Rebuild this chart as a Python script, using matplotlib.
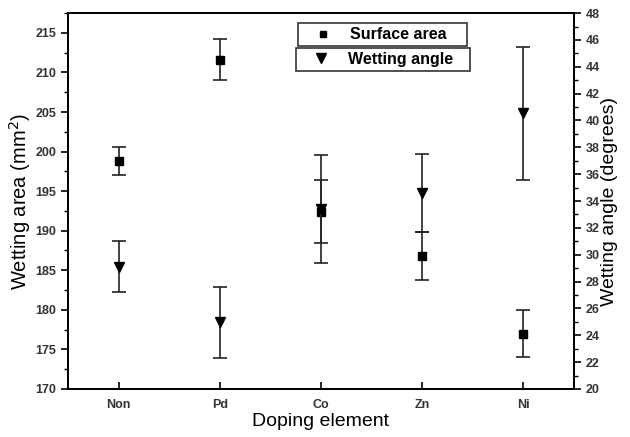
import matplotlib
matplotlib.use('Agg')
import matplotlib.pyplot as plt
from matplotlib.lines import Line2D
from matplotlib.ticker import MultipleLocator

# --- data ---
elements = ['Non', 'Pd', 'Co', 'Zn', 'Ni']
area = [198.8, 211.6, 192.4, 186.8, 177.0]        # mm^2, left axis
area_err = [1.8, 2.6, 4.0, 3.0, 3.0]
angle = [29.1, 24.95, 33.4, 34.6, 40.55]          # degrees, right axis
angle_err = [1.9, 2.65, 4.0, 2.9, 4.95]

plt.rcParams['font.family'] = ['Liberation Sans', 'DejaVu Sans']

fig = plt.figure(figsize=(6.3, 4.37), dpi=100)
ax = fig.add_axes([0.108, 0.110, 0.803, 0.860])
ax2 = ax.twinx()

x = list(range(1, len(elements) + 1))

# 1. error bars
ax.errorbar(x, area, yerr=area_err, fmt='s', color='black', ms=5.5,
            ecolor='#222222', elinewidth=1.2, capsize=5, capthick=1.2, zorder=3)
ax2.errorbar(x, angle, yerr=angle_err, fmt='v', color='black', ms=7.5,
             ecolor='#222222', elinewidth=1.2, capsize=5, capthick=1.2, zorder=3)

# 2. axes
ax.set_xlim(0.5, 5.5)
ax.set_ylim(170, 217.5)
ax2.set_ylim(20, 48)
ax.set_xticks(x)
ax.set_xticklabels(elements)
ax.yaxis.set_major_locator(MultipleLocator(5))
ax.yaxis.set_minor_locator(MultipleLocator(2.5))
ax2.yaxis.set_major_locator(MultipleLocator(2))
ax2.yaxis.set_minor_locator(MultipleLocator(1))

ax.tick_params(axis='x', direction='in', length=5, width=1.2, pad=7)
ax.tick_params(axis='y', which='major', direction='out', length=5, width=1.2)
ax.tick_params(axis='y', which='minor', direction='out', length=3, width=1.0)
ax2.tick_params(axis='y', which='major', direction='out', length=5, width=1.2)
ax2.tick_params(axis='y', which='minor', direction='out', length=3, width=1.0)

for a in (ax, ax2):
    for sp in a.spines.values():
        sp.set_linewidth(1.4)
    for lab in a.get_xticklabels() + a.get_yticklabels():
        lab.set_fontweight('bold')
        lab.set_fontsize(9)
        lab.set_color('#333333')

ax.set_xlabel('Doping element', fontsize=14, labelpad=2)
ax.set_ylabel('Wetting area (mm$^2$)', fontsize=14.5, labelpad=2)
ax2.set_ylabel('Wetting angle (degrees)', fontsize=14, labelpad=1)

# 3. two stacked legend boxes
h_area = Line2D([], [], ls='none', marker='s', color='black', ms=5)
h_angle = Line2D([], [], ls='none', marker='v', color='black', ms=7.5)
leg_kw = dict(loc='upper left', mode='expand', fancybox=False, framealpha=1,
              edgecolor='#333333', borderpad=0.25, handlelength=2.6,
              handletextpad=0.4, borderaxespad=0,
              prop={'weight': 'bold', 'size': 11.5})
leg1 = ax2.legend([h_area], ['Surface area'],
                  bbox_to_anchor=(0.4545, 0.973, 0.334, 0.0), **leg_kw)
leg1.get_frame().set_linewidth(1.2)
ax2.add_artist(leg1)
leg2 = ax2.legend([h_angle], ['Wetting angle'],
                  bbox_to_anchor=(0.4506, 0.907, 0.344, 0.0), **leg_kw)
leg2.get_frame().set_linewidth(1.2)

fig.savefig('out.png', dpi=100)
